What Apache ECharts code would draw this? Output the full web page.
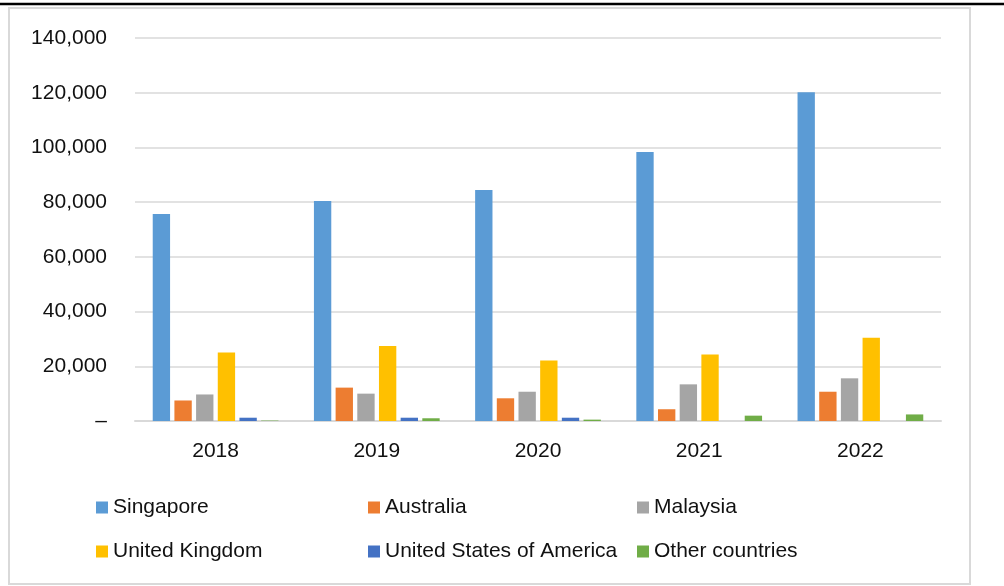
<!DOCTYPE html>
<html>
<head>
<meta charset="utf-8">
<script src="https://cdn.jsdelivr.net/npm/echarts@6/dist/echarts.min.js"></script>
<style>
html,body{margin:0;padding:0;background:#fff;}
#chart{width:1004px;height:586px;}
</style>
</head>
<body>
<div id="chart"></div>
<script>
var years = ['2018', '2019', '2020', '2021', '2022'];
var singapore = [75700, 80400, 84400, 98300, 120200];
var australia = [7500, 12200, 8300, 4300, 10700];
var malaysia = [9700, 10000, 10700, 13400, 15600];
var unitedKingdom = [25000, 27400, 22100, 24300, 30400];
var usa = [1200, 1200, 1200, 0, 0];
var otherCountries = [150, 1000, 500, 1950, 2400];
var seriesNames = ['Singapore', 'Australia', 'Malaysia', 'United Kingdom', 'United States of America', 'Other countries'];
var seriesColors = ['#5B9BD5', '#ED7D31', '#A5A5A5', '#FFC000', '#4472C4', '#70AD47'];
var seriesData = [singapore, australia, malaysia, unitedKingdom, usa, otherCountries];

var chart = echarts.init(document.getElementById('chart'), null, {renderer: 'canvas'});
var fontFam = '"Liberation Sans", Arial, sans-serif';

var series = seriesNames.map(function (n, i) {
  return {
    name: n,
    type: 'bar',
    data: seriesData[i],
    barGap: '25%',
    barCategoryGap: '22%',
    itemStyle: {color: seriesColors[i]}
  };
});

function legendCol(names, left) {
  return {
    orient: 'vertical',
    left: left,
    top: 492,
    itemWidth: 12,
    itemHeight: 12,
    itemGap: 23,
    icon: 'rect',
    data: names,
    textStyle: {fontSize: 21, color: '#111', fontFamily: fontFam, lineHeight: 21}
  };
}

chart.setOption({
  animation: false,
  textStyle: {fontFamily: fontFam},
  graphic: [
    {type: 'line', shape: {x1: 0, y1: 4, x2: 1004, y2: 4}, style: {stroke: '#000', lineWidth: 2.5}},
    {type: 'rect', shape: {x: 9, y: 8, width: 961, height: 576}, style: {fill: 'none', stroke: '#d9d9d9', lineWidth: 2}}
  ],
  legend: [
    legendCol(['Singapore', 'United Kingdom'], 91),
    legendCol(['Australia', 'United States of America'], 363),
    legendCol(['Malaysia', 'Other countries'], 632)
  ],
  grid: {left: 135, right: 63, top: 38, bottom: 165},
  xAxis: {
    type: 'category',
    data: years,
    axisLine: {show: true, lineStyle: {color: '#d9d9d9', width: 2}},
    axisTick: {show: false},
    axisLabel: {fontSize: 21, color: '#111', margin: 20, fontFamily: fontFam}
  },
  yAxis: {
    type: 'value',
    min: 0,
    max: 140000,
    interval: 20000,
    axisLine: {show: false},
    axisTick: {show: false},
    splitLine: {lineStyle: {color: '#d9d9d9', width: 1.5}},
    axisLabel: {
      fontSize: 21,
      color: '#111',
      margin: 28,
      fontFamily: fontFam,
      formatter: function (v) { return v === 0 ? '–' : v.toLocaleString('en-US'); }
    }
  },
  series: series
});
</script>
</body>
</html>
